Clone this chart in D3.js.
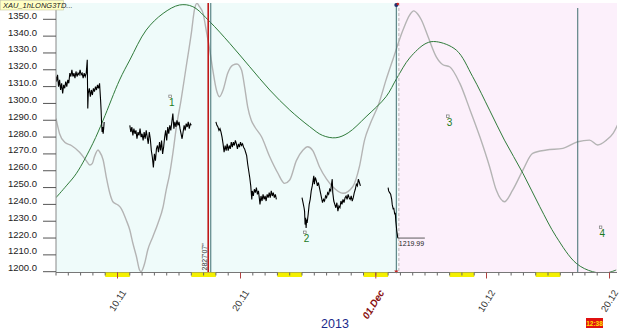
<!DOCTYPE html>
<html><head><meta charset="utf-8">
<script src="https://cdn.jsdelivr.net/npm/d3@7"></script>
<style>body{margin:0;background:#fff}svg{display:block;font-family:Arial,"Liberation Sans",sans-serif}</style>
</head><body>
<svg id="c" width="625" height="330"></svg>
<script>
// ---------- DATA ----------
const chartTitle = "XAU_1hLONG3TD...";
const yearLabel = "2013";
const clockLabel = "12:38";
const baseDate = "2013-11-05T00:00:00Z";   // hour offsets below are counted from this
const domainHours = [0, 1094.6];
const yTicks = [1200,1210,1220,1230,1240,1250,1260,1270,1280,1290,1300,1310,1320,1330,1340,1350];
const xTickLabels = ["10.11","20.11","01.Dec","10.12","20.12"];
const xTickDates = ["2013-11-10","2013-11-20","2013-12-01","2013-12-10","2013-12-20"];
const weekendStarts = ["2013-11-09","2013-11-16","2013-11-23","2013-11-30","2013-12-07","2013-12-14"];
const projectionStartHour = 668;
// price segments: [hour, price]
const priceSeg1 = [[0,1316],[1,1313],[3,1317],[5,1310],[7,1314],[9,1308],[11,1312],[13,1306],[15,1311],[17,1309],[19,1313],[21,1310],[23,1314],[25,1312],[27,1318],[29,1316],[31,1320],[33,1316],[35,1318],[37,1315],[39,1319],[41,1316],[43,1318],[45,1317],[47,1320],[49,1317],[51,1318],[53,1315],[55,1318],[57,1316],[59,1318],[61,1326],[62,1297],[63,1306],[65,1309],[67,1304],[69,1308],[71,1305],[73,1309],[75,1307],[77,1310],[79,1308],[81,1311],[83,1309],[85,1312],[87,1302],[88,1296],[89,1288],[90,1283],[91,1286],[92,1282],[93,1285],[94,1289]];
const priceSeg2 = [[144,1287],[146,1283],[148,1286],[150,1281],[152,1285],[154,1282],[156,1284],[158,1279],[160,1283],[162,1281],[164,1285],[166,1280],[168,1282],[170,1278],[172,1283],[174,1279],[176,1284],[178,1280],[180,1276],[182,1283],[184,1279],[186,1272],[188,1268],[190,1262],[192,1270],[194,1266],[196,1273],[198,1275],[200,1271],[202,1277],[204,1272],[206,1278],[208,1270],[210,1274],[212,1280],[214,1284],[216,1278],[218,1286],[220,1282],[222,1287],[224,1284],[226,1289],[228,1294],[230,1285],[232,1289],[234,1286],[236,1290],[238,1287],[240,1289],[242,1285],[244,1282],[246,1279],[248,1283],[250,1287],[252,1284],[254,1288],[256,1286],[258,1289],[260,1285],[262,1288],[264,1287]];
const priceSeg3 = [[312,1289],[314,1287],[316,1286],[318,1284],[320,1285],[322,1283],[324,1280],[326,1276],[328,1271],[330,1275],[332,1272],[334,1276],[336,1272],[338,1275],[340,1273],[342,1277],[344,1274],[346,1277],[348,1275],[350,1278],[352,1276],[354,1273],[356,1276],[358,1274],[360,1277],[362,1275],[364,1276],[366,1274],[368,1273],[370,1271],[372,1269],[374,1264],[376,1260],[378,1256],[380,1251],[382,1243],[383,1248],[385,1245],[387,1249],[389,1247],[391,1250],[393,1246],[395,1248],[397,1243],[398,1240],[400,1245],[402,1242],[404,1246],[406,1243],[408,1245],[410,1242],[412,1246],[414,1244],[416,1247],[418,1244],[420,1248],[422,1245],[424,1247],[426,1244],[428,1246],[430,1243]];
const priceSeg4 = [[480,1244],[482,1241],[484,1238],[485,1236],[486,1228],[487,1232],[488,1226],[489,1231],[490,1229],[492,1234],[494,1240],[496,1243],[498,1248],[500,1251],[502,1255],[503,1257],[504,1252],[506,1256],[508,1254],[510,1251],[512,1253],[514,1250],[516,1247],[518,1244],[520,1241],[522,1243],[524,1242],[526,1245],[528,1244],[530,1247],[532,1246],[534,1249],[536,1248],[538,1253],[539,1255],[540,1247],[542,1242],[544,1240],[546,1238],[548,1241],[550,1236],[552,1239],[554,1238],[556,1242],[558,1240],[560,1243],[562,1241],[564,1244],[566,1245],[568,1243],[570,1246],[572,1244],[574,1243],[576,1245],[578,1242],[580,1244],[582,1247],[584,1249],[586,1252],[588,1251],[590,1255],[592,1253],[594,1251]];
const priceSeg5 = [[648,1250],[649,1248],[651,1247],[653,1246],[655,1243],[656,1240],[658,1237],[659,1238],[661,1234],[662,1235],[663,1230],[664,1227],[665,1224],[666,1222],[667,1219.99]];
const lastPrice = 1219.99;
const lastHour = 667;
// short cycle projection (grey)
const cycleShort = [[0,1291],[3,1287],[7,1282],[17,1277],[30,1275],[46,1271],[59,1266],[66,1263.4],[71,1264.4],[75,1268.3],[82,1272.3],[85,1271.3],[92,1266.4],[98,1256.4],[105,1246.6],[111,1241.6],[121,1239.6],[127,1237.7],[137,1230.7],[144,1224.8],[150,1216.9],[157,1208.9],[163,1201],[166,1200],[173,1205],[179,1212.9],[189,1220.8],[199,1228.8],[209,1238.6],[215,1248.5],[222,1258.5],[228,1270.3],[235,1286.2],[244,1302],[254,1321.8],[264,1341.6],[270,1355.5],[275,1359.5],[280,1357.5],[287,1353.5],[293,1343.6],[300,1331.7],[306,1319.8],[313,1308],[319,1304],[326,1308],[335,1317.9],[345,1322.8],[353,1323.4],[362,1319.8],[368,1309.9],[374,1298],[381,1290],[388,1286],[401,1280.2],[417,1268.3],[433,1258.5],[446,1252.5],[456,1254.5],[469,1266],[482,1272.3],[491,1274.3],[501,1272],[514,1262.4],[528,1255],[540,1250.5],[560,1246.6],[579,1250.5],[592,1262.4],[602,1278.2],[612,1287],[630,1300],[644,1314],[657,1325.8],[677,1343.6],[690,1352.5],[698,1355],[706,1353],[713,1349.6],[726,1339.6],[742,1327.7],[755,1323],[768,1321.8],[788,1311.9],[808,1296],[827,1280.2],[846,1262.4],[859,1248.5],[875,1241.6],[891,1248.5],[911,1260.4],[930,1270.3],[957,1272.3],[989,1273.3],[1018,1277.2],[1041,1278.2],[1057,1275.3],[1074,1278.2],[1087,1282.2],[1100,1290]];
// long cycle projection (green)
const cycleLong = [[0,1244],[20,1251],[40,1258.5],[72,1276.3],[92,1290.1],[124,1313.9],[144,1325.8],[176,1343.6],[209,1353.5],[241,1358.5],[267,1357.5],[300,1348.6],[339,1335.7],[378,1321.8],[417,1308],[456,1296.1],[495,1286.2],[520,1281],[546,1279.6],[570,1282.5],[605,1292.1],[644,1304],[665,1315],[690,1327],[722,1335.7],[742,1336.7],[781,1331.7],[813,1315.9],[846,1296],[875,1278.2],[911,1258.5],[944,1238.6],[976,1220.8],[1015,1205],[1047,1200],[1074,1199.3],[1093,1201]];
// turning-point labels
const markerLabels = ["1","2","3","4"];
const markerHours = [226,489,768,1066];
const markerValues = [1300.8,1220,1289,1223];
// vertical event lines (hour offsets)
const redLineHour = 297;
const darkLineHours = [302,664,1018];
const cycleNote = "2827'07\"";

// ---------- CHART ----------
const svg = d3.select("#c");
const W = 625, H = 330;
const pL = 56, pR = 617, pT = 3, pB = 272.5;
const t0 = new Date(baseDate);
const hr = h => new Date(t0.getTime() + h * 3600e3);
const x = d3.scaleUtc().domain(domainHours.map(hr)).range([pL, pR]);
const y = d3.scaleLinear().domain([1200, 1350]).range([271.7, 19.3]);

svg.append("rect").attr("width", W).attr("height", H).attr("fill", "#fff");
// backgrounds
const xp = x(hr(projectionStartHour));
svg.append("rect").attr("x", pL).attr("y", pT)
  .attr("width", xp - pL).attr("height", pB - pT).attr("fill", "#effbfa");
svg.append("rect").attr("x", xp).attr("y", pT)
  .attr("width", pR - xp).attr("height", pB - pT).attr("fill", "#fcf0fb");

svg.append("defs").append("clipPath").attr("id", "clip")
  .append("rect").attr("x", pL).attr("y", pT).attr("width", pR - pL).attr("height", pB - pT);
const plot = svg.append("g").attr("clip-path", "url(#clip)");

const line = d3.line().x(d => x(hr(d[0]))).y(d => y(d[1])).curve(d3.curveMonotoneX);
const lineLin = d3.line().x(d => x(hr(d[0]))).y(d => y(d[1]));

plot.append("path").datum(cycleShort).attr("d", line).attr("fill", "none")
  .attr("stroke", "#b4b4b4").attr("stroke-width", 1.4);
plot.append("path").datum(cycleLong).attr("d", d3.line().x(d => x(hr(d[0]))).y(d => y(d[1])).curve(d3.curveCatmullRom))
  .attr("fill", "none").attr("stroke", "#2f7a3a").attr("stroke-width", 1);

// vertical lines
plot.append("line").attr("x1", x(hr(redLineHour))).attr("x2", x(hr(redLineHour)))
  .attr("y1", pT).attr("y2", pB).attr("stroke", "#c01818").attr("stroke-width", 1.6);
darkLineHours.forEach((h, i) => {
  plot.append("line").attr("x1", x(hr(h))).attr("x2", x(hr(h)))
    .attr("y1", i === 2 ? 8 : pT).attr("y2", pB).attr("stroke", "#3f6f70").attr("stroke-width", 1);
});
plot.append("line").attr("x1", xp + 0.5).attr("x2", xp + 0.5)
  .attr("y1", pT).attr("y2", pB).attr("stroke", "#b8b8b8").attr("stroke-dasharray", "3,2");

// price
[priceSeg1, priceSeg2, priceSeg3, priceSeg4, priceSeg5].forEach(seg => {
  plot.append("path").datum(seg).attr("d", lineLin).attr("fill", "none")
    .attr("stroke", "#000").attr("stroke-width", 1.1);
});

// last price marker
const lx = x(hr(lastHour)), ly = y(lastPrice);
svg.append("line").attr("x1", lx).attr("x2", lx + 27).attr("y1", ly).attr("y2", ly)
  .attr("stroke", "#333").attr("stroke-width", 0.8);
svg.append("text").attr("x", lx + 1).attr("y", ly + 8).attr("font-size", 7).attr("fill", "#222")
  .text(lastPrice.toFixed(2));

// top marker on the dark line
const dx0 = x(hr(darkLineHours[1]));
svg.append("circle").attr("cx", dx0).attr("cy", 5).attr("r", 2).attr("fill", "#22306e");
svg.append("circle").attr("cx", dx0 + 1.5).attr("cy", 4).attr("r", 1.2).attr("fill", "#d02020");
svg.append("path").attr("d", `M${dx0 - 2},${pB - 2} L${dx0 + 2},${pB - 2} L${dx0},${pB + 1} Z`).attr("fill", "#d02020");

// cycle note
const rx = x(hr(redLineHour));
svg.append("text").attr("transform", `translate(${rx - 1},${pB - 2}) rotate(-90)`)
  .attr("font-size", 7).attr("fill", "#333").text(cycleNote);

// turning-point labels
markerLabels.forEach((lab, i) => {
  const mx = x(hr(markerHours[i])), my = y(markerValues[i]);
  svg.append("rect").attr("x", mx - 3).attr("y", my - 7).attr("width", 2.5).attr("height", 2.5)
    .attr("fill", "#fff").attr("stroke", "#777").attr("stroke-width", 0.7);
  svg.append("text").attr("x", mx).attr("y", my + 4).attr("text-anchor", "middle")
    .attr("font-size", 10).attr("fill", "#1a7a1a").text(lab);
});

// y axis
svg.append("line").attr("x1", pL).attr("x2", pL).attr("y1", pT).attr("y2", pB).attr("stroke", "#888");
const ya = svg.append("g");
yTicks.forEach(v => {
  ya.append("line").attr("x1", 43).attr("x2", pL).attr("y1", y(v)).attr("y2", y(v)).attr("stroke", "#555");
  ya.append("text").attr("x", 37).attr("y", y(v) - 0.5).attr("text-anchor", "end")
    .attr("font-size", 9.5).attr("fill", "#222").text(d3.format(".1f")(v));
});

// x axis
svg.append("line").attr("x1", pL).attr("x2", pR).attr("y1", pB).attr("y2", pB).attr("stroke", "#777");
weekendStarts.forEach(s => {
  const a = new Date(s + "T00:00:00Z");
  const b = new Date(a.getTime() + 2 * 86400e3);
  svg.append("rect").attr("x", x(a)).attr("y", pB).attr("width", x(b) - x(a)).attr("height", 4.5)
    .attr("fill", "#f4f000");
});
const days = d3.utcDay.range(hr(domainHours[0]), hr(domainHours[1]));
days.forEach(d => {
  svg.append("line").attr("x1", x(d)).attr("x2", x(d)).attr("y1", pB).attr("y2", pB + 3)
    .attr("stroke", "#666");
});
xTickDates.forEach((s, i) => {
  const d = new Date(s + "T00:00:00Z");
  const px = x(d);
  svg.append("line").attr("x1", px).attr("x2", px).attr("y1", pB).attr("y2", pB + 6)
    .attr("stroke", "#b04040");
  const isMonth = xTickLabels[i].indexOf("Dec") >= 0;
  svg.append("text").attr("transform", `translate(${px + 9},${pB + 20}) rotate(-58)`)
    .attr("text-anchor", "end").attr("font-size", isMonth ? 10 : 9.5)
    .attr("font-weight", isMonth ? "bold" : "normal").attr("font-style", isMonth ? "italic" : "normal")
    .attr("fill", isMonth ? "#8a1010" : "#333").text(xTickLabels[i]);
});

svg.append("text").attr("x", 335).attr("y", 328).attr("text-anchor", "middle")
  .attr("font-size", 12.5).attr("fill", "#1c2a8c").text(yearLabel);

// clock box
svg.append("rect").attr("x", 586).attr("y", 318).attr("width", 17).attr("height", 10).attr("fill", "#e01010");
svg.append("text").attr("x", 594.5).attr("y", 326).attr("text-anchor", "middle").attr("font-size", 6.5)
  .attr("font-weight", "bold").attr("fill", "#ffe000").text(clockLabel);

// title box
svg.append("rect").attr("x", 0.5).attr("y", 0.5).attr("width", 63).attr("height", 9.5)
  .attr("fill", "#ffffc4").attr("stroke", "#c8c8a0").attr("stroke-width", 0.6);
svg.append("text").attr("x", 3).attr("y", 8).attr("font-size", 7.5).attr("font-style", "italic")
  .attr("fill", "#222").text(chartTitle);
</script>
</body></html>
